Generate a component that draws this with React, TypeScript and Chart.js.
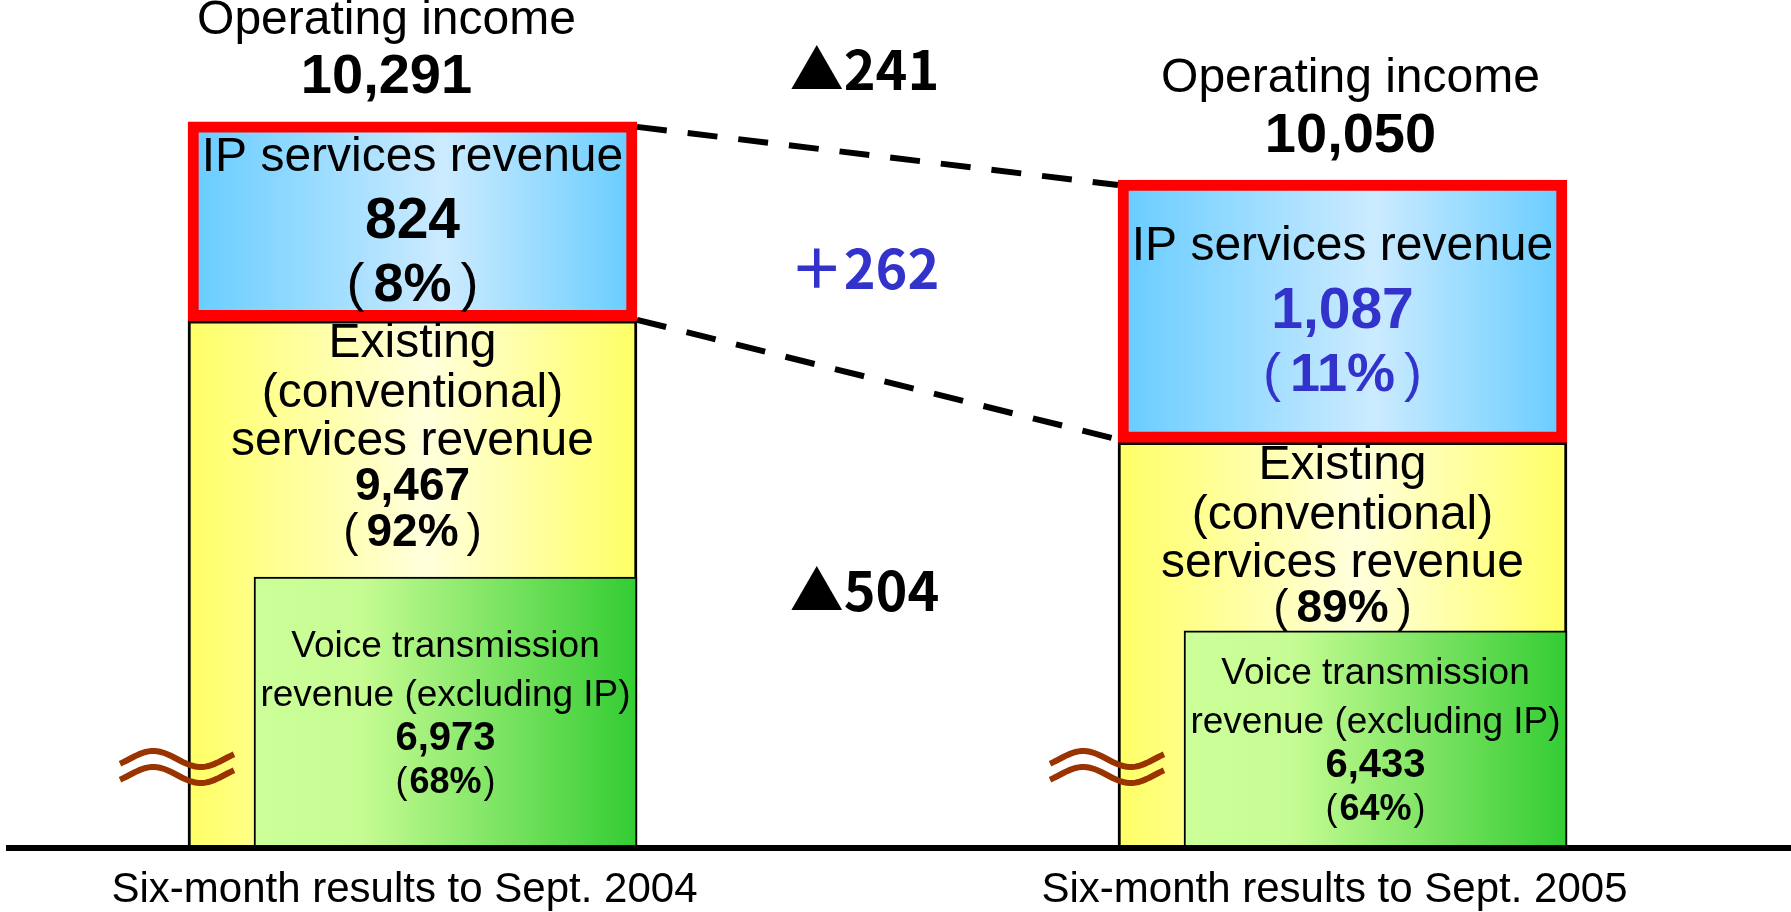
import { useEffect, useRef } from 'react';
import { Chart, registerables } from 'chart.js';

Chart.register(...registerables);

// ---------------- data ----------------
const periods = ['Six-month results to Sept. 2004', 'Six-month results to Sept. 2005'];
const operatingIncome = [10291, 10050];
const ipRevenue = [824, 1087];
const voiceRevenue = [6973, 6433];
const ipShare = [8, 11];
const existingShare = [92, 89];
const voiceShare = [68, 64];
const showExistingValue = [true, false];
const changeOperatingIncome = -241;
const changeIp = 262;
const changeExisting = -504;

// ---------------- styles ----------------
const SANS = '"Liberation Sans", Arial, "Noto Sans CJK JP", sans-serif';
const CJK = '"Noto Sans CJK JP", "Liberation Sans", sans-serif';
const BLUE_TEXT = '#3333CC';
type Stop = [number, string];
const blueFill: Stop[] = [[0, '#66CCFF'], [0.57, '#CCEBFF'], [1, '#66CCFF']];
const yellowFill: Stop[] = [[0, '#FFFF66'], [0.53, '#FFFFDD'], [1, '#FFFF66']];
const greenFill: Stop[] = [[0, '#CCFF99'], [0.28, '#C6FC93'], [1, '#33CC33']];
const BAR_W = 449;
const VOICE_W = 383;

const fmt = (v: number) => v.toLocaleString('en-US');
const fmtChange = (v: number) => (v < 0 ? '▲' : '＋') + Math.abs(v).toLocaleString('en-US');

const fill = (stops: Stop[], width: number) => (c: any) => {
  const chart = c.chart;
  if (c.type !== 'data' || !chart.chartArea) return stops[0][1];
  const xs = chart.scales[c.dataset.xAxisID ?? 'x'];
  const cx = xs.getPixelForValue(c.parsed.x);
  if (!isFinite(cx)) return stops[0][1];
  const g = chart.ctx.createLinearGradient(cx - width / 2, 0, cx + width / 2, 0);
  stops.forEach(([o, col]) => g.addColorStop(o, col));
  return g;
};

const overlay = {
  id: 'overlay',
  afterDatasetsDraw(chart: any) {
    const ctx: CanvasRenderingContext2D = chart.ctx;
    const voEls = chart.getDatasetMeta(0).data;
    const ipEls = chart.getDatasetMeta(1).data;
    const exEls = chart.getDatasetMeta(2).data;
    const xs = chart.scales.x;
    const ys = chart.scales.y;
    const baseY = ys.getPixelForValue(ys.min);
    const slots = [0, 2];

    ctx.save();
    // baseline
    ctx.strokeStyle = '#000';
    ctx.lineWidth = 6;
    ctx.beginPath();
    ctx.moveTo(6, baseY + 1);
    ctx.lineTo(chart.width, baseY + 1);
    ctx.stroke();

    const props = ['x', 'y', 'base', 'width'];
    const ip = slots.map((s) => ipEls[s].getProps(props, true));
    const ex = slots.map((s) => exEls[s].getProps(props, true));
    const vo = [0, 1].map((s) => voEls[s].getProps(props, true));
    const top = (e: any) => Math.min(e.y, e.base);
    const bottom = (e: any) => Math.max(e.y, e.base);

    // dashed connector lines between the IP boxes
    ctx.setLineDash([30, 21]);
    ctx.lineWidth = 6;
    const lr = ip[0].x + ip[0].width / 2;
    const rl = ip[1].x - ip[1].width / 2;
    ctx.beginPath();
    ctx.moveTo(lr, top(ip[0]) + 5);
    ctx.lineTo(rl, top(ip[1]) + 5);
    ctx.moveTo(lr, bottom(ip[0]) - 1);
    ctx.lineTo(rl, bottom(ip[1]) - 3);
    ctx.stroke();
    ctx.setLineDash([]);

    // axis-break marks
    ctx.strokeStyle = '#993300';
    ctx.lineWidth = 6;
    ex.forEach((e) => {
      const cx = e.x - e.width / 2 - 11;
      const cy = baseY - 80;
      [-8, 8].forEach((dy) => {
        ctx.beginPath();
        for (let k = 0; k <= 40; k++) {
          const t = k / 40;
          const ph = -0.1 + 1.2 * t;
          const px = cx - 57 + 114 * t;
          const py = cy + dy - 8 * Math.sin(2 * Math.PI * ph);
          if (k === 0) ctx.moveTo(px, py); else ctx.lineTo(px, py);
        }
        ctx.stroke();
      });
    });

    const text = (s: string, x: number, y: number, font: string, color = '#000') => {
      ctx.font = font;
      ctx.fillStyle = color;
      ctx.textAlign = 'center';
      ctx.textBaseline = 'middle';
      ctx.fillText(s, x, y);
    };
    // "(nn%)" with thin, separately spaced parentheses
    const pct = (v: number, x: number, y: number, size: number, gap: number, color = '#000') => {
      const inner = `${v}%`;
      ctx.font = `bold ${size}px ${SANS}`;
      const w = ctx.measureText(inner).width;
      text(inner, x, y, `bold ${size}px ${SANS}`, color);
      ctx.font = `${size}px ${SANS}`;
      ctx.textAlign = 'right';
      ctx.fillText('(', x - w / 2 - gap, y);
      ctx.textAlign = 'left';
      ctx.fillText(')', x + w / 2 + gap, y);
    };

    const titleDx = [-26, 8];
    periods.forEach((_, i) => {
      const t = top(ip[i]);
      const b = bottom(ip[i]);
      const cx = ip[i].x;
      const hl = i === periods.length - 1 ? BLUE_TEXT : '#000';
      text('Operating income', cx + titleDx[i], t - 101, `48px ${SANS}`);
      text(fmt(operatingIncome[i]), cx + titleDx[i], t - 44, `bold 56px ${SANS}`);

      const mid = (t + b) / 2;
      text('IP services revenue', cx, mid - 64, `48px ${SANS}`);
      text(fmt(ipRevenue[i]), cx, mid + 1, `bold 57px ${SANS}`, hl);
      pct(ipShare[i], cx, mid + 65, 54, 9, hl);

      const exTop = b;
      text('Existing', cx, exTop + 23, `48px ${SANS}`);
      text('(conventional)', cx, exTop + 73, `48px ${SANS}`);
      text('services revenue', cx, exTop + 121, `48px ${SANS}`);
      let y = exTop + 167;
      if (showExistingValue[i]) {
        text(fmt(operatingIncome[i] - ipRevenue[i]), cx, y, `bold 46px ${SANS}`);
        y += 46;
      }
      pct(existingShare[i], cx, y, 46, 8);

      const v = vo[i];
      const vmid = (top(v) + baseY) / 2;
      text('Voice transmission', v.x, vmid - 65, `37px ${SANS}`);
      text('revenue (excluding IP)', v.x, vmid - 16, `37px ${SANS}`);
      text(fmt(voiceRevenue[i]), v.x, vmid + 27, `bold 40px ${SANS}`);
      pct(voiceShare[i], v.x, vmid + 71, 36, 2);
    });

    // change labels in the middle column
    const mx = xs.getPixelForValue(1) - 13;
    const avg = (a: number[]) => a.reduce((s, v) => s + v, 0) / a.length;
    const tops = ip.map(top);
    const ipMids = ip.map((e) => (e.y + e.base) / 2);
    const exMids = ex.map((e) => (top(e) + baseY) / 2);
    text(fmtChange(changeOperatingIncome), mx, avg(tops) - 81, `bold 54px ${CJK}`);
    text(fmtChange(changeIp), mx, avg(ipMids) + 2, `bold 54px ${CJK}`, BLUE_TEXT);
    text(fmtChange(changeExisting), mx, avg(exMids) - 24, `bold 54px ${CJK}`);
    ctx.restore();
  },
};

export default function App() {
  const ref = useRef<HTMLCanvasElement>(null);
  useEffect(() => {
    const canvas = ref.current;
    if (!canvas) return;
    const existingRevenue = operatingIncome.map((v, i) => v - ipRevenue[i]);
    const slot = <T,>(a: T[]) => [a[0], null, a[1]];
    const chart = new Chart(canvas, {
      type: 'bar',
      data: {
        labels: [periods[0], '', periods[1]],
        datasets: [
          {
            label: 'Voice transmission revenue (excluding IP)',
            data: voiceRevenue.map((v, i) => ({ x: i * 2, y: v })) as any,
            xAxisID: 'x2',
            yAxisID: 'y2',
            order: 0,
            grouped: false,
            barThickness: VOICE_W,
            maxBarThickness: VOICE_W,
            backgroundColor: fill(greenFill, VOICE_W) as any,
            borderColor: '#000',
            borderWidth: 2,
            borderSkipped: 'start',
          },
          {
            label: 'IP services revenue',
            data: slot(ipRevenue.map((v, i) => [existingRevenue[i], existingRevenue[i] + v])) as any,
            order: 1,
            grouped: false,
            barThickness: BAR_W,
            maxBarThickness: BAR_W,
            backgroundColor: fill(blueFill, BAR_W) as any,
            borderColor: '#FF0000',
            borderWidth: 11,
            borderSkipped: false,
          },
          {
            label: 'Existing (conventional) services revenue',
            data: slot(existingRevenue) as any,
            order: 2,
            grouped: false,
            barThickness: BAR_W,
            maxBarThickness: BAR_W,
            backgroundColor: fill(yellowFill, BAR_W) as any,
            borderColor: '#000',
            borderWidth: 3,
            borderSkipped: 'start',
          },
        ],
      },
      options: {
        responsive: false,
        animation: false,
        devicePixelRatio: 1,
        events: [],
        layout: { padding: { left: 180, right: 216, top: 0, bottom: 0 } },
        plugins: { legend: { display: false }, tooltip: { enabled: false } },
        scales: {
          x: {
            type: 'category',
            offset: true,
            grid: { display: false, drawTicks: true, tickLength: 22 },
            border: { display: false },
            ticks: {
              color: '#000',
              padding: 0.5,
              labelOffset: -8,
              autoSkip: false,
              maxRotation: 0,
              minRotation: 0,
              font: { family: SANS, size: 42, lineHeight: 1 },
            },
          },
          x2: { type: 'linear', display: false, offset: false, min: -0.571, max: 2.429 },
          y: { type: 'linear', display: false, stacked: false, beginAtZero: false, min: 7287, max: 10796 },
          y2: { type: 'linear', display: false, stacked: false, beginAtZero: false, min: 4258, max: 12776 },
        },
      },
      plugins: [overlay],
    });
    return () => chart.destroy();
  }, []);
  return (
    <div style={{ position: 'fixed', left: 0, top: 0, width: 1791, height: 912, background: '#fff' }}>
      <canvas ref={ref} width={1791} height={912} style={{ display: 'block' }} />
    </div>
  );
}
